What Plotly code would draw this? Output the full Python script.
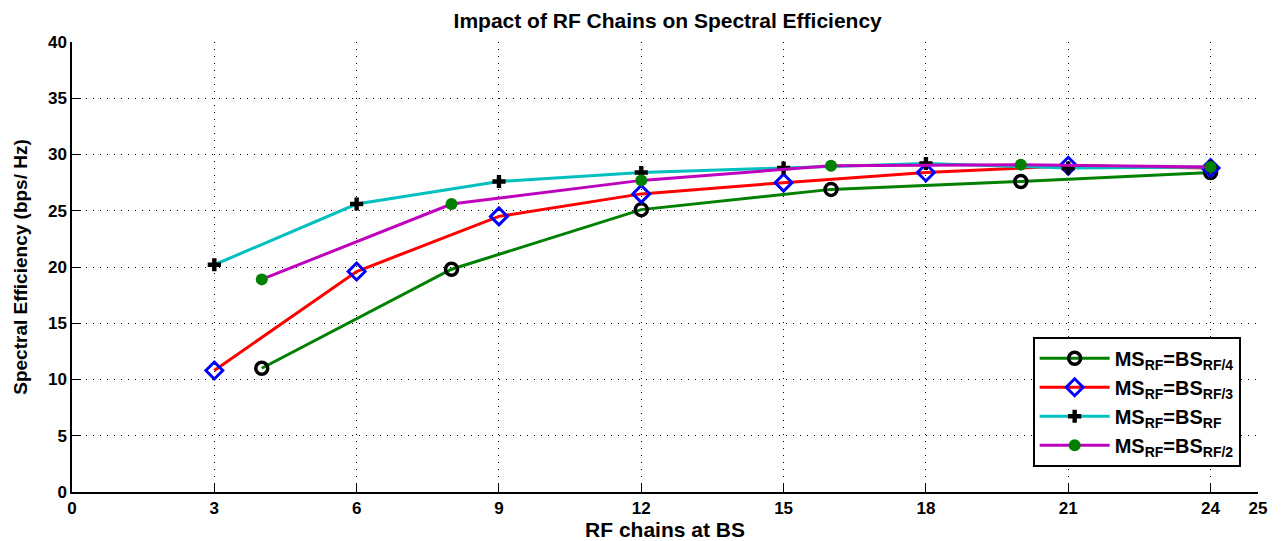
import plotly.graph_objects as go

x_quarter = [4, 8, 12, 16, 20, 24]
y_quarter = [11.0, 19.8, 25.1, 26.9, 27.6, 28.4]

x_third = [3, 6, 9, 12, 15, 18, 21, 24]
y_third = [10.8, 19.6, 24.5, 26.5, 27.5, 28.4, 29.0, 28.8]

x_full = [3, 6, 9, 12, 15, 18, 21, 24]
y_full = [20.2, 25.6, 27.6, 28.4, 28.8, 29.2, 28.8, 28.9]

x_half = [4, 8, 12, 16, 20, 24]
y_half = [18.9, 25.6, 27.7, 29.0, 29.1, 28.9]

x_ticks = [0, 3, 6, 9, 12, 15, 18, 21, 24, 25]
y_ticks = [0, 5, 10, 15, 20, 25, 30, 35, 40]

FONT = "Liberation Sans, Arial, Helvetica, sans-serif"

fig = go.Figure()
fig.add_trace(go.Scatter(
    x=x_quarter, y=y_quarter, mode="lines+markers",
    name="MS<sub>RF</sub>=BS<sub>RF/4</sub>",
    line=dict(color="#008000", width=3),
    marker=dict(symbol="circle-open", size=12, color="black", line=dict(width=3.5, color="black"))))
fig.add_trace(go.Scatter(
    x=x_third, y=y_third, mode="lines+markers",
    name="MS<sub>RF</sub>=BS<sub>RF/3</sub>",
    line=dict(color="#ff0000", width=3),
    marker=dict(symbol="diamond-open", size=13, color="#0000ff", line=dict(width=3, color="#0000ff"))))
fig.add_trace(go.Scatter(
    x=x_full, y=y_full, mode="lines+markers",
    name="MS<sub>RF</sub>=BS<sub>RF</sub>",
    line=dict(color="#00bfbf", width=3),
    marker=dict(symbol="cross", size=11, color="black", line=dict(width=0))))
fig.add_trace(go.Scatter(
    x=x_half, y=y_half, mode="lines+markers",
    name="MS<sub>RF</sub>=BS<sub>RF/2</sub>",
    line=dict(color="#bf00bf", width=3),
    marker=dict(symbol="circle", size=12, color="#008000", line=dict(width=0))))

axis_common = dict(
    showline=True, linecolor="black", linewidth=1.5, mirror=False,
    ticks="inside", ticklen=9, tickwidth=1, tickcolor="black",
    showgrid=True, gridcolor="black", griddash="1px,6px", gridwidth=1.3,
    zeroline=False, automargin=False,
    tickfont=dict(family=FONT, size=17, color="black", weight="bold"),
)

fig.update_layout(
    width=1284, height=541,
    paper_bgcolor="white", plot_bgcolor="white",
    margin=dict(l=72, r=26, t=42, b=49),
    title=dict(text="Impact of RF Chains on Spectral Efficiency", x=0.52, xanchor="center",
               y=0.962, yanchor="middle",
               font=dict(family=FONT, size=21, color="black", weight="bold")),
    xaxis=dict(range=[0, 25], tickvals=x_ticks, ticktext=[str(v) for v in x_ticks],
               title=dict(text="RF chains at BS",
                          font=dict(family=FONT, size=21, color="black", weight="bold")),
               **axis_common),
    yaxis=dict(range=[0, 40], tickvals=y_ticks,
               title=dict(text="Spectral Efficiency (bps/ Hz)",
                          font=dict(family=FONT, size=19, color="black", weight="bold")),
               **axis_common),
    legend=dict(x=0.81, y=0.345, xanchor="left", yanchor="top",
                bgcolor="white", bordercolor="black", borderwidth=2,
                itemwidth=70, tracegroupgap=0,
                font=dict(family=FONT, size=20, color="black", weight="bold")),
)

fig.write_html("out.html")
